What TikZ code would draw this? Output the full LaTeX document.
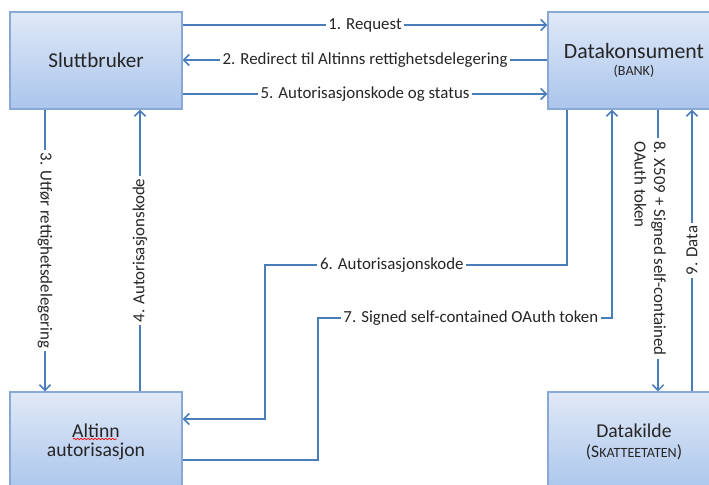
\documentclass[tikz,border=0pt]{standalone}
\usepackage{fontspec}
\setmainfont{Carlito}
\usetikzlibrary{positioning,arrows.meta,decorations.pathmorphing}
\definecolor{flowblue}{RGB}{74,126,187}
\definecolor{boxtop}{RGB}{224,233,247}
\definecolor{boxbot}{RGB}{170,197,236}
\definecolor{boxline}{RGB}{138,168,214}

\begin{document}
\begin{tikzpicture}[x=0.025cm, y=0.025cm]
		\tikzstyle{every node}+=[font=\fontsize{12}{14}\selectfont, text=black!85]
		\tikzstyle{party}=[draw=boxline, line width=0.8pt, top color=boxtop, bottom color=boxbot, align=center, minimum width=4.3cm, minimum height=2.425cm]
		\tikzstyle{flow}=[draw=flowblue, line width=1.1pt, -{Straight Barb[length=4pt,width=8pt]}]
		\tikzstyle{lbl}=[fill=white, inner sep=2pt]
		\useasboundingbox (0,0) rectangle (709,-485);
		% the four parties
		\node[party] (sb) at (96,-60.5) {\fontsize{15}{18}\selectfont Sluttbruker};
		\node[party] (dk) at (634,-60.5) {\fontsize{15.5}{18}\selectfont Datakonsument\\[-2pt]\fontsize{10}{12}\selectfont (BANK)};
		\node[party, minimum height=2.5cm] (al) at (96,-442) {\fontsize{14}{16.5}\selectfont Altinn\\\fontsize{14}{16.5}\selectfont autorisasjon};
		\node[party, minimum height=2.5cm] (ds) at (634,-442) {\fontsize{14}{16.5}\selectfont Datakilde\\\fontsize{12.5}{16.5}\selectfont (S{\fontsize{10}{12}\selectfont KATTEETATEN})};
		\draw [red, line width=0.5pt, decorate, decoration={snake, amplitude=0.5pt, segment length=2.5pt}] (73,-439) -- (117,-439);
		% top messages
		\draw [flow] (sb.east |- 0,-25) -- node[lbl] {1. Request} (dk.west |- 0,-25);
		\draw [flow] (dk.west |- 0,-60) -- node[lbl] {2. Redirect til Altinns rettighetsdelegering} (sb.east |- 0,-60);
		\draw [flow] (sb.east |- 0,-94) -- node[lbl] {5. Autorisasjonskode og status} (dk.west |- 0,-94);
		% user <-> altinn
		\draw [flow] (sb.south -| 45,0) -- node[lbl, rotate=-90] {3. Utfør rettighetsdelegering} (al.north -| 45,0);
		\draw [flow] (al.north -| 140,0) -- node[lbl, rotate=90] {4. Autorisasjonskode} (sb.south -| 140,0);
		% consumer <-> altinn
		\draw [flow] (dk.south -| 567,0) |- node[lbl, pos=0.79] {6. Autorisasjonskode} (265,-265) |- (al.east |- 0,-419);
		\draw [flow] (al.east |- 0,-460) -| (318,-318) -| node[lbl, pos=0.26] {7. Signed self-contained OAuth token} (dk.south -| 612,0);
		% consumer <-> source
		\draw [flow] (dk.south -| 658,0) -- (ds.north -| 658,0);
		\node[lbl, rotate=-90, anchor=north west, align=left] (l8) at (669,-138) {8. X509 + Signed self-contained\\OAuth token};
		\draw [flow] (ds.north -| 692,0) -- node[lbl, rotate=90] {9. Data} (dk.south -| 692,0);
	\end{tikzpicture}
\end{document}
